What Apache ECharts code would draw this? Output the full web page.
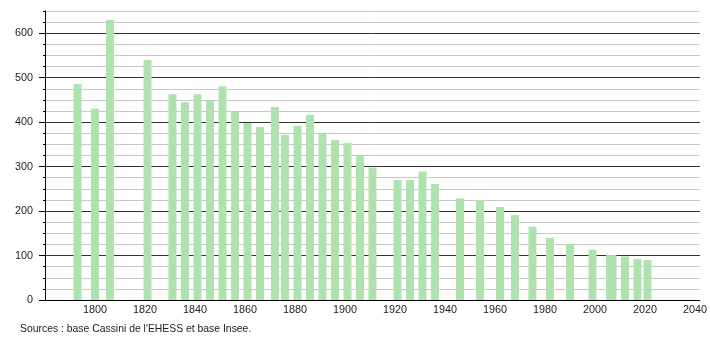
<!DOCTYPE html>
<html><head><meta charset="utf-8">
<script src="https://cdn.jsdelivr.net/npm/echarts@6/dist/echarts.min.js"></script>
<style>html,body{margin:0;padding:0;background:#fff}#c{width:710px;height:340px}</style>
</head><body><div id="c"></div>
<script>
const years = [1793,1800,1806,1821,1831,1836,1841,1846,1851,1856,1861,1866,1872,1876,1881,1886,1891,1896,1901,1906,1911,1921,1926,1931,1936,1946,1954,1962,1968,1975,1982,1990,1999,2006,2007,2012,2017,2021];
const population = [486,430,630,540,463,445,463,450,481,423,398,389,434,371,392,416,375,360,353,326,298,270,270,289,261,229,225,209,191,165,140,126,113,101,101,98,92,90];
const yTickLabels = [0,100,200,300,400,500,600];
const xTickLabels = [1800,1820,1840,1860,1880,1900,1920,1940,1960,1980,2000,2020,2040];
const sourceText = "Sources : base Cassini de l'EHESS et base Insee.";

const FONT = '"Liberation Sans", Arial, sans-serif';
const chart = echarts.init(document.getElementById('c'), null, {renderer: 'canvas'});
chart.setOption({
  animation: false,
  backgroundColor: '#fff',
  grid: {left: 45, right: 10, top: 11, bottom: 40, containLabel: false},
  xAxis: {
    type: 'value', min: 1780, max: 2042, interval: 20,
    axisLine: {show: true, lineStyle: {color: '#000', width: 1}},
    axisTick: {show: false},
    splitLine: {show: false},
    axisLabel: {customValues: xTickLabels, formatter: v => String(v), margin: 5, fontSize: 10.8, color: '#222', fontFamily: FONT}
  },
  yAxis: [
    {
      type: 'value', min: 0, max: 650, interval: 25, position: 'left',
      axisLine: {show: true, lineStyle: {color: '#000', width: 1}},
      axisTick: {show: true, length: 2, lineStyle: {color: '#000'}},
      axisLabel: {show: false},
      splitLine: {show: true, lineStyle: {color: ['#333', '#c8c8c8', '#c8c8c8', '#c8c8c8'], width: 1}}
    },
    {
      type: 'value', min: 0, max: 650, interval: 100, position: 'left',
      axisLine: {show: false},
      axisTick: {show: true, length: 6, customValues: yTickLabels, lineStyle: {color: '#000'}},
      splitLine: {show: false},
      axisLabel: {customValues: yTickLabels, formatter: v => String(v), margin: 12, fontSize: 10.8, color: '#222', fontFamily: FONT}
    }
  ],
  series: [{
    type: 'bar',
    yAxisIndex: 0,
    barWidth: 8,
    itemStyle: {color: '#b0e2b0'},
    data: years.map((y, i) => [y, population[i]])
  }],
  graphic: [{
    type: 'text', left: 20, top: 324,
    style: {text: sourceText, fontSize: 10.4, fill: '#222', fontFamily: FONT}
  }]
});
</script>
</body></html>
